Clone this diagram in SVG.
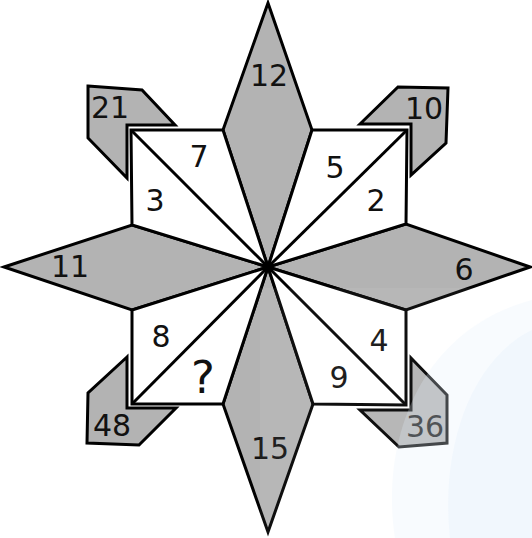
<svg xmlns="http://www.w3.org/2000/svg" width="532" height="538" viewBox="0 0 532 538">
<style>
.g{fill:#b3b3b3;stroke:#000;stroke-width:3;stroke-linejoin:miter}
.w{fill:#fff;stroke:#000;stroke-width:3;stroke-linejoin:miter}
.l{stroke:#000;stroke-width:3;fill:none}
text{font-family:"DejaVu Sans","Liberation Sans",sans-serif;font-size:30px;fill:#111;text-anchor:middle}
</style>
<rect width="532" height="538" fill="#fff"/>
<g id="spikes">
<g id="n12"><polygon class="g" points="268,3 312,130 268,267 223,130"/><text x="269" y="86">12</text></g>
<g id="n15"><polygon class="g" points="268,267 313,404 268,532 223,404"/><text x="270" y="459">15</text></g>
<g id="n11"><polygon class="g" points="4,267 132,225 268,267 132,310"/><text x="70" y="277">11</text></g>
<g id="n6"><polygon class="g" points="268,267 406,224 530,267 406,310"/><text x="464" y="280">6</text></g>
</g>
<g id="squares">
<g id="sqTL"><polygon class="w" points="131,130 223,130 268,267 132,225"/><text x="199" y="167">7</text><text x="155" y="211">3</text></g>
<g id="sqTR"><polygon class="w" points="312,130 407,130 406,224 268,267"/><text x="335" y="178">5</text><text x="376" y="211">2</text></g>
<g id="sqBL"><polygon class="w" points="132,310 132,404 223,404 268,267"/><text x="161" y="347">8</text><text x="203" y="393" style="font-size:45px">?</text></g>
<g id="sqBR"><polygon class="w" points="406,310 406,405 313,404 268,267"/><text x="379" y="351">4</text><text x="339" y="388">9</text></g>
</g>
<g id="corners">
<g id="n21"><polygon class="g" points="88,86 142,90 175,125 127,125 127,178 88,138"/><text x="110" y="118">21</text></g>
<g id="n10"><polygon class="g" points="360,124 398,87 448,88 446,143 411,175 411,124"/><text x="424" y="119">10</text></g>
<g id="n48"><polygon class="g" points="127,357 88,393 87,443 139,445 176,408 127,408"/><text x="112" y="436">48</text></g>
<g id="n36"><polygon class="g" points="411,358 447,395 447,443 399,447 360,410 411,410"/><text x="425" y="437">36</text></g>
</g>
<g id="connectors">
<line class="l" x1="131" y1="130" x2="268" y2="267"/>
<line class="l" x1="407" y1="130" x2="268" y2="267"/>
<line class="l" x1="132" y1="404" x2="268" y2="267"/>
<line class="l" x1="406" y1="405" x2="268" y2="267"/>
</g>
<g id="watermark">
<rect x="260" y="288" width="272" height="250" fill="#fff" opacity="0.06"/>
<path d="M395,538 C380,440 420,330 532,300 L532,538 Z" fill="#e3f0fc" opacity="0.25"/>
<path d="M450,538 C440,450 470,360 532,330 L532,538 Z" fill="#d6e9fa" opacity="0.2"/>
</g>
</svg>
